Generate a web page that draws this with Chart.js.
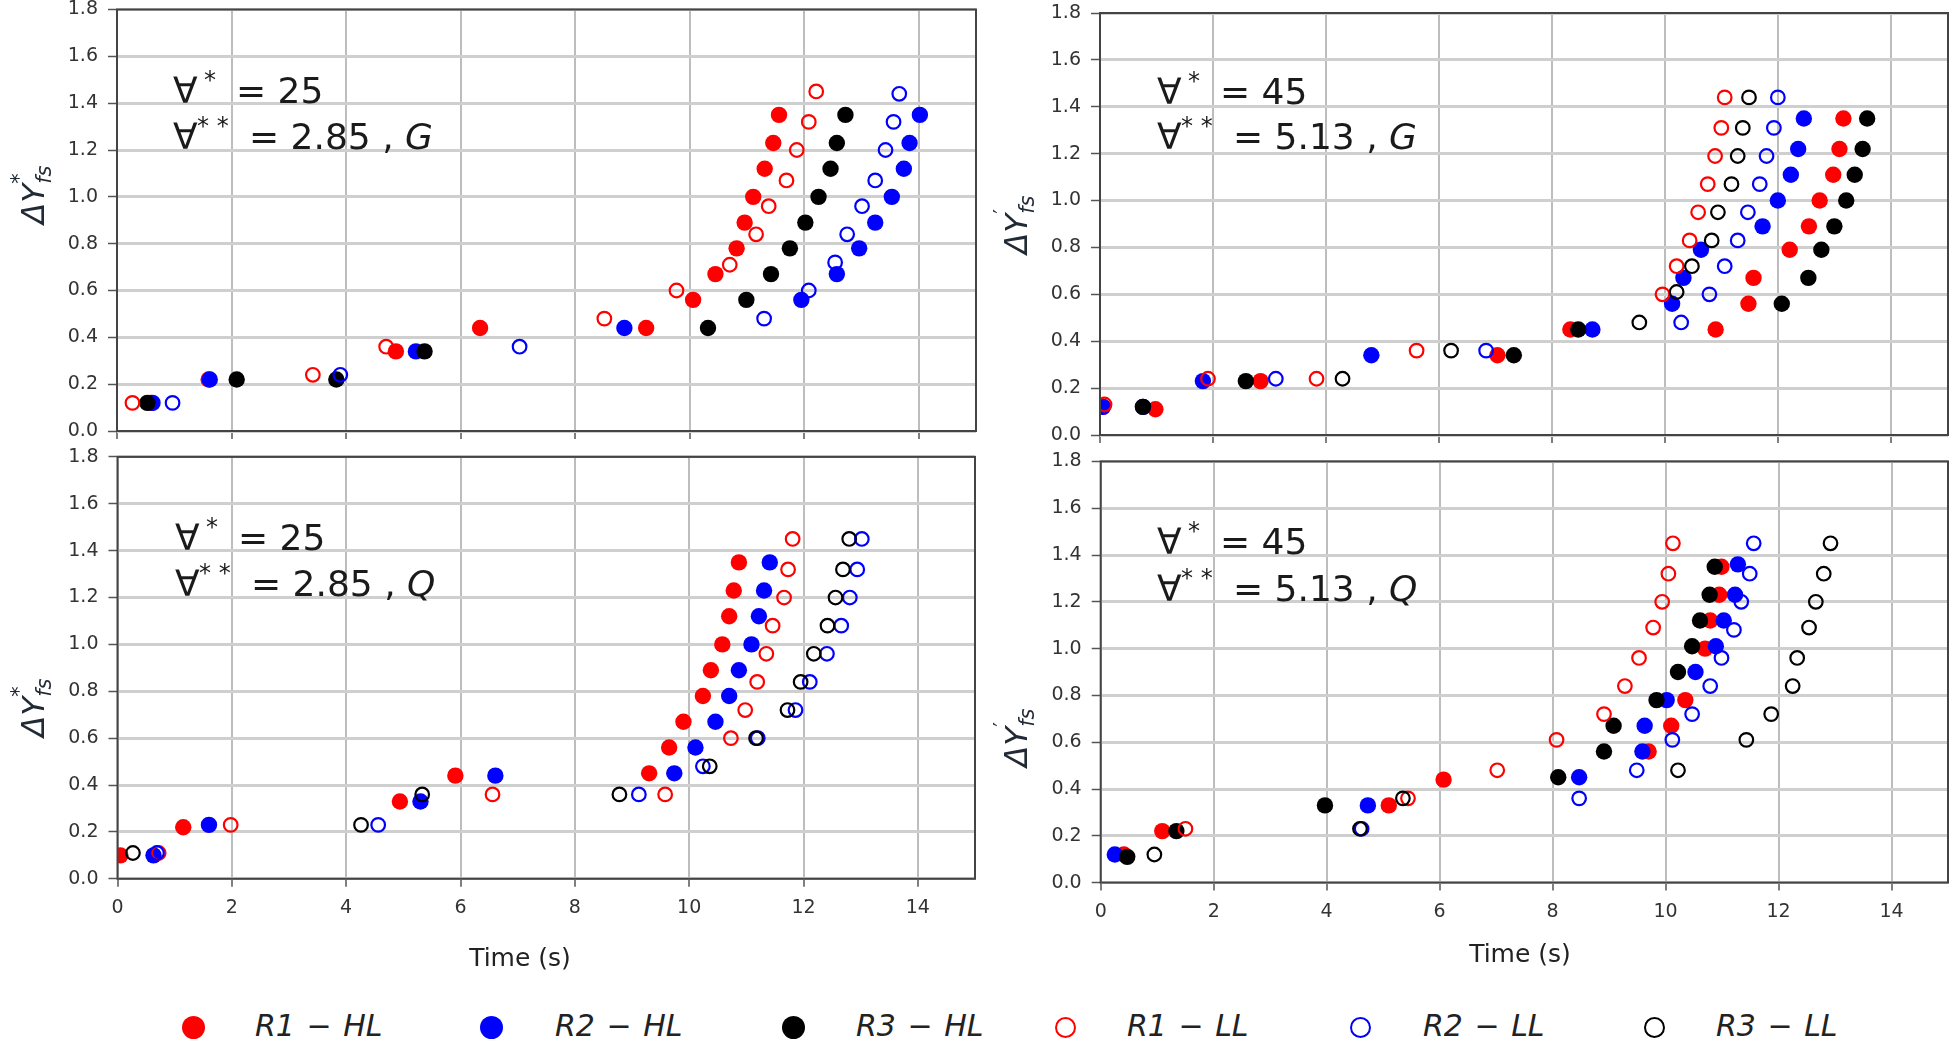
<!DOCTYPE html>
<html>
<head>
<meta charset="utf-8">
<script src="https://cdn.jsdelivr.net/npm/chart.js@4.4.1/dist/chart.umd.min.js"></script>
<style>
body{margin:0;background:#fff;width:1957px;height:1047px;overflow:hidden;position:relative;font-family:'DejaVu Sans',sans-serif}
canvas{position:absolute}
.marca{position:absolute;box-sizing:border-box;border-radius:50%}
.nombre{position:absolute;white-space:nowrap;font-style:italic;font-size:30px;color:#222;word-spacing:2px}
</style>
</head>
<body>
<canvas id="gTL" width="990" height="450" style="left:0;top:0"></canvas>
<canvas id="gTR" width="977" height="450" style="left:980px;top:0"></canvas>
<canvas id="gBL" width="990" height="560" style="left:0;top:440px"></canvas>
<canvas id="gBR" width="977" height="560" style="left:980px;top:440px"></canvas>
<div id="leyenda"></div>
<script>
// ticks
var tiempoTicks = [0, 2, 4, 6, 8, 10, 12, 14];
var dyTicks = [0, 0.2, 0.4, 0.6, 0.8, 1.0, 1.2, 1.4, 1.6, 1.8];

var nombres = ['R1 − HL', 'R2 − HL', 'R3 − HL', 'R1 − LL', 'R2 − LL', 'R3 − LL'];
var colores = ['#ff0000', '#0000ff', '#000000', '#ff0000', '#0000ff', '#000000'];

// [tiempo (s), dY] -- panel 25, G
var g25_R1HL = [[0.59,0.12],[1.6,0.22],[4.87,0.34],[6.34,0.44],[9.24,0.44],[10.06,0.56],[10.45,0.67],[10.82,0.78],[10.96,0.89],[11.11,1.0],[11.31,1.12],[11.46,1.23],[11.56,1.35]];
var g25_R2HL = [[0.62,0.12],[1.62,0.22],[5.22,0.34],[8.86,0.44],[11.95,0.56],[12.57,0.67],[12.96,0.78],[13.24,0.89],[13.53,1.0],[13.74,1.12],[13.84,1.23],[14.02,1.35]];
var g25_R3HL = [[0.53,0.12],[2.09,0.22],[3.83,0.22],[5.37,0.34],[10.32,0.44],[10.99,0.56],[11.42,0.67],[11.75,0.78],[12.02,0.89],[12.25,1.0],[12.46,1.12],[12.57,1.23],[12.72,1.35]];
var g25_R1LL = [[0.27,0.12],[3.42,0.24],[4.7,0.36],[8.51,0.48],[9.77,0.6],[10.7,0.71],[11.16,0.84],[11.38,0.96],[11.69,1.07],[11.87,1.2],[12.08,1.32],[12.21,1.45]];
var g25_R2LL = [[0.97,0.12],[3.9,0.24],[7.03,0.36],[11.3,0.48],[12.08,0.6],[12.54,0.72],[12.75,0.84],[13.01,0.96],[13.24,1.07],[13.42,1.2],[13.56,1.32],[13.66,1.44]];
var g25_R3LL = [];

// panel 45, G
var g45_R1HL = [[0.05,0.12],[0.98,0.11],[2.84,0.23],[7.03,0.34],[8.32,0.45],[10.89,0.45],[11.47,0.56],[11.56,0.67],[12.2,0.79],[12.54,0.89],[12.73,1.0],[12.97,1.11],[13.08,1.22],[13.15,1.35]];
var g45_R2HL = [[0.05,0.12],[0.76,0.12],[1.82,0.23],[4.8,0.34],[8.71,0.45],[10.12,0.56],[10.32,0.67],[10.63,0.79],[11.72,0.89],[11.99,1.0],[12.22,1.11],[12.35,1.22],[12.45,1.35]];
var g45_R3HL = [[0.76,0.12],[2.58,0.23],[7.32,0.34],[8.46,0.45],[12.06,0.56],[12.53,0.67],[12.76,0.79],[12.99,0.89],[13.2,1.0],[13.35,1.11],[13.49,1.22],[13.57,1.35]];
var g45_R1LL = [[0.08,0.13],[1.91,0.24],[3.83,0.24],[5.6,0.36],[9.95,0.6],[10.2,0.72],[10.43,0.83],[10.58,0.95],[10.75,1.07],[10.88,1.19],[10.99,1.31],[11.05,1.44]];
var g45_R2LL = [[3.11,0.24],[6.83,0.36],[10.28,0.48],[10.78,0.6],[11.05,0.72],[11.28,0.83],[11.46,0.95],[11.67,1.07],[11.79,1.19],[11.92,1.31],[11.99,1.44]];
var g45_R3LL = [[4.29,0.24],[6.21,0.36],[9.54,0.48],[10.2,0.61],[10.47,0.72],[10.82,0.83],[10.93,0.95],[11.17,1.07],[11.28,1.19],[11.37,1.31],[11.48,1.44]];

// panel 25, Q
var q25_R1HL = [[0.05,0.1],[1.15,0.22],[4.94,0.33],[5.91,0.44],[9.3,0.45],[9.65,0.56],[9.9,0.67],[10.24,0.78],[10.38,0.89],[10.58,1.0],[10.7,1.12],[10.78,1.23],[10.87,1.35]];
var q25_R2HL = [[0.63,0.1],[1.6,0.23],[5.3,0.33],[6.61,0.44],[9.74,0.45],[10.11,0.56],[10.46,0.67],[10.7,0.78],[10.87,0.89],[11.09,1.0],[11.22,1.12],[11.31,1.23],[11.41,1.35]];
var q25_R3HL = [];
var q25_R1LL = [[0.72,0.11],[1.98,0.23],[6.56,0.36],[9.58,0.36],[10.73,0.6],[10.98,0.72],[11.19,0.84],[11.35,0.96],[11.46,1.08],[11.66,1.2],[11.73,1.32],[11.81,1.45]];
var q25_R2LL = [[0.69,0.11],[4.56,0.23],[9.12,0.36],[10.24,0.48],[11.2,0.6],[11.86,0.72],[12.11,0.84],[12.41,0.96],[12.66,1.08],[12.81,1.2],[12.94,1.32],[13.02,1.45]];
var q25_R3LL = [[0.27,0.11],[4.26,0.23],[5.33,0.36],[8.78,0.36],[10.36,0.48],[11.17,0.6],[11.72,0.72],[11.95,0.84],[12.18,0.96],[12.42,1.08],[12.56,1.2],[12.69,1.32],[12.8,1.45]];

// panel 45, Q
var q45_R1HL = [[0.41,0.12],[1.09,0.22],[5.1,0.33],[6.07,0.44],[9.7,0.56],[10.1,0.67],[10.35,0.78],[10.7,1.0],[10.79,1.12],[10.95,1.23],[10.99,1.35]];
var q45_R2HL = [[0.25,0.12],[4.73,0.33],[8.47,0.45],[9.59,0.56],[9.63,0.67],[10.02,0.78],[10.53,0.9],[10.89,1.01],[11.03,1.12],[11.23,1.23],[11.28,1.36]];
var q45_R3HL = [[0.47,0.11],[1.34,0.22],[3.97,0.33],[8.1,0.45],[8.91,0.56],[9.08,0.67],[9.84,0.78],[10.22,0.9],[10.47,1.01],[10.61,1.12],[10.78,1.23],[10.87,1.35]];
var q45_R1LL = [[1.5,0.23],[5.44,0.36],[7.02,0.48],[8.07,0.61],[8.91,0.72],[9.28,0.84],[9.53,0.96],[9.78,1.09],[9.94,1.2],[10.05,1.32],[10.13,1.45]];
var q45_R2LL = [[4.62,0.23],[8.47,0.36],[9.49,0.48],[10.12,0.61],[10.47,0.72],[10.79,0.84],[10.99,0.96],[11.21,1.08],[11.34,1.2],[11.49,1.32],[11.56,1.45]];
var q45_R3LL = [[0.95,0.12],[4.59,0.23],[5.35,0.36],[10.22,0.48],[11.43,0.61],[11.87,0.72],[12.25,0.84],[12.33,0.96],[12.54,1.09],[12.66,1.2],[12.8,1.32],[12.92,1.45]];

var FUENTE = '"DejaVu Sans", sans-serif';

function textoRico(ctx, x, y, partes) {
    var cx = x;
    partes.forEach(function (p) {
        ctx.font = (p.italic ? 'italic ' : '') + p.size + 'px ' + FUENTE;
        var px = (p.at !== undefined) ? x + p.at : cx;
        ctx.fillText(p.t, px, y + (p.dy || 0));
        if (!p.keep) cx = px + ctx.measureText(p.t).width;
    });
}

function lineasTexto(vol, vol2, letra) {
    return [
        [{t: '∀', size: 36}, {t: '*', size: 24, dy: -15, at: 31}, {t: '= ' + vol, size: 36, at: 63}],
        [{t: '∀', size: 36}, {t: '* *', size: 24, dy: -15, at: 24}, {t: '= ' + vol2 + ' , ', size: 36, at: 76}, {t: letra, size: 36, italic: true}]
    ];
}

var decorPlugin = {
    id: 'decor',
    afterDraw: function (chart, args, cfg) {
        var ctx = chart.ctx;
        var a = chart.chartArea;
        ctx.save();
        // marco
        ctx.strokeStyle = '#444';
        ctx.lineWidth = 2;
        ctx.strokeRect(a.left, a.top, a.right - a.left, a.bottom - a.top);
        // texto del panel
        ctx.fillStyle = '#1a1a1a';
        ctx.textBaseline = 'alphabetic';
        ctx.textAlign = 'left';
        textoRico(ctx, cfg.txt.x, cfg.txt.y1, cfg.lineas[0]);
        textoRico(ctx, cfg.txt.x, cfg.txt.y2, cfg.lineas[1]);
        // etiqueta eje y
        ctx.save();
        ctx.translate(cfg.ylab.x, cfg.ylab.y);
        ctx.rotate(-Math.PI / 2);
        ctx.fillStyle = '#222a35';
        textoRico(ctx, 0, 0, [
            {t: 'ΔY', size: 31, italic: true},
            {t: cfg.ylab.sup, size: 21, dy: -18, keep: true},
            {t: 'fs', size: 21, italic: true, dy: 7}
        ]);
        ctx.restore();
        // titulo eje x
        if (cfg.xtit) {
            ctx.font = '25px ' + FUENTE;
            ctx.fillStyle = '#222';
            ctx.textAlign = 'center';
            ctx.textBaseline = 'middle';
            ctx.fillText('Time (s)', cfg.xtit.x, cfg.xtit.y);
        }
        ctx.restore();
    }
};

function generaPanel(id, series, cfg) {
    var datasets = series.map(function (pts, i) {
        var abierto = i >= 3;
        return {
            label: nombres[i],
            data: pts.map(function (p) { return {x: p[0], y: p[1]}; }),
            pointRadius: abierto ? 6.8 : 8.2,
            pointBorderWidth: abierto ? 2.2 : 0,
            pointBorderColor: colores[i],
            pointBackgroundColor: abierto ? 'rgba(0,0,0,0)' : colores[i],
            showLine: false,
            order: 10 - i
        };
    });
    return new Chart(document.getElementById(id), {
        type: 'scatter',
        data: {datasets: datasets},
        options: {
            responsive: false,
            animation: false,
            events: [],
            layout: {padding: cfg.pad},
            plugins: {
                legend: {display: false},
                tooltip: {enabled: false},
                decor: cfg
            },
            scales: {
                x: {
                    type: 'linear',
                    min: 0,
                    max: 15,
                    afterBuildTicks: function (s) {
                        s.ticks = tiempoTicks.map(function (v) { return {value: v}; });
                    },
                    afterFit: function (s) {
                        s.height = cfg.xh;
                        s.paddingLeft = 0;
                        s.paddingRight = 0;
                    },
                    ticks: {
                        display: cfg.xlabels,
                        font: {family: FUENTE, size: 19},
                        color: '#333',
                        padding: 10,
                        maxRotation: 0
                    },
                    grid: {color: '#bdbdbd', lineWidth: 2, tickLength: 8, tickColor: '#555', tickWidth: 1.5},
                    border: {display: false}
                },
                y: {
                    type: 'linear',
                    min: 0,
                    max: 1.8,
                    afterBuildTicks: function (s) {
                        s.ticks = dyTicks.map(function (v) { return {value: v}; });
                    },
                    afterFit: function (s) {
                        s.width = cfg.yw;
                        s.paddingTop = 0;
                        s.paddingBottom = 0;
                    },
                    ticks: {
                        font: {family: FUENTE, size: 19},
                        color: '#333',
                        padding: 10,
                        callback: function (v) { return v.toFixed(1); }
                    },
                    grid: {color: '#cfcfcf', lineWidth: 3, tickLength: 9, tickColor: '#555', tickWidth: 1.5},
                    border: {display: false}
                }
            }
        },
        plugins: [decorPlugin]
    });
}

generaPanel('gTL', [g25_R1HL, g25_R2HL, g25_R3HL, g25_R1LL, g25_R2LL, g25_R3LL], {
    yw: 117, xh: 19, xlabels: false,
    pad: {left: 0, right: 14, top: 9.5, bottom: 0},
    txt: {x: 173, y1: 103, y2: 149},
    lineas: lineasTexto('25', '2.85', 'G'),
    ylab: {x: 44, y: 224, sup: '*'}
});
generaPanel('gTR', [g45_R1HL, g45_R2HL, g45_R3HL, g45_R1LL, g45_R2LL, g45_R3LL], {
    yw: 120, xh: 15, xlabels: false,
    pad: {left: 0, right: 4, top: 13, bottom: 0},
    txt: {x: 177, y1: 104, y2: 149},
    lineas: lineasTexto('45', '5.13', 'G'),
    ylab: {x: 47, y: 254, sup: '′'}
});
generaPanel('gBL', [q25_R1HL, q25_R2HL, q25_R3HL, q25_R1LL, q25_R2LL, q25_R3LL], {
    yw: 117.5, xh: 121.2, xlabels: true,
    pad: {left: 0, right: 15, top: 16.9, bottom: 0},
    txt: {x: 175, y1: 110, y2: 156},
    lineas: lineasTexto('25', '2.85', 'Q'),
    ylab: {x: 44, y: 297, sup: '*'},
    xtit: {x: 520, y: 519}
});
generaPanel('gBR', [q45_R1HL, q45_R2HL, q45_R3HL, q45_R1LL, q45_R2LL, q45_R3LL], {
    yw: 120.7, xh: 117.4, xlabels: true,
    pad: {left: 0, right: 4, top: 21.4, bottom: 0},
    txt: {x: 177, y1: 114, y2: 161},
    lineas: lineasTexto('45', '5.13', 'Q'),
    ylab: {x: 47, y: 327, sup: '′'},
    xtit: {x: 540, y: 515}
});

// leyenda
var marcaX = [193, 491, 793, 1065, 1360, 1654];
var textoX = [255, 555, 856, 1127, 1423, 1716];
var leyenda = document.getElementById('leyenda');
nombres.forEach(function (n, i) {
    var abierto = i >= 3;
    var m = document.createElement('div');
    m.className = 'marca';
    var d = abierto ? 21 : 23;
    m.style.width = d + 'px';
    m.style.height = d + 'px';
    m.style.left = (marcaX[i] - d / 2) + 'px';
    m.style.top = (1027 - d / 2) + 'px';
    if (abierto) {
        m.style.border = '2.5px solid ' + colores[i];
    } else {
        m.style.background = colores[i];
    }
    leyenda.appendChild(m);
    var t = document.createElement('div');
    t.className = 'nombre';
    t.style.left = textoX[i] + 'px';
    t.style.top = '1008px';
    t.textContent = n;
    leyenda.appendChild(t);
});
</script>
</body>
</html>
